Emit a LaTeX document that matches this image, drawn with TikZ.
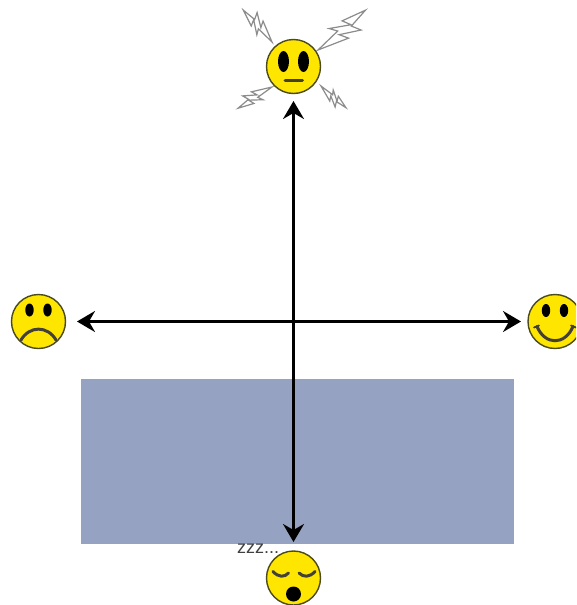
\documentclass[tikz,border=0pt]{standalone}
\usepackage{fontspec}
\setsansfont{Liberation Sans}
\usetikzlibrary{arrows.meta}
\definecolor{facefill}{HTML}{FFE600}
\definecolor{faceline}{HTML}{4A4A1A}
\definecolor{boxfill}{HTML}{96A2C2}
\tikzset{face/.style={circle, draw=faceline, fill=facefill, line width=1.4pt, minimum size=54pt, inner sep=0pt, outer sep=0pt},
feature/.style={draw=black!85!yellow, line width=3pt, line cap=round},
axisline/.style={black, line width=2.6pt, {Stealth[length=18pt,width=21pt,inset=6pt]}-{Stealth[length=18pt,width=21pt,inset=6pt]}},
boltmark/.pic={\draw[draw=black!45, fill=white, line width=1.2pt, line join=miter]
  (0,0) -- (.50,.17) -- (.42,.03) -- (.74,.20) -- (.66,.05) -- (1,0)
  -- (.60,-.11) -- (.67,.03) -- (.36,-.15) -- (.44,-.03) -- cycle;}}

\begin{document}
\begin{tikzpicture}[x=1pt,y=-1pt]
\useasboundingbox (0,0) rectangle (576,605);
\clip (0,0) rectangle (576,605);
\fill[white] (0,0) rectangle (576,605);
\fill[boxfill] (81,379) rectangle (514,544);

%lightning round the top face
\foreach \px/\py/\ang/\len in {272/42/132/43, 318/50/40/62, 272/87/212/40, 321/86/-41/33}
     \pic[rotate=\ang, scale=\len] at (\px,\py) {boltmark};

\node[face] (alert) at (293.5,66.5) {};
\node[face] (sad) at (38.5,321.5) {};
\node[face] (happy) at (555,321.5) {};
\node[face] (sleepy) at (293.5,578) {};
\node[font=\sffamily\fontsize{18}{18}\selectfont, text=black!75, inner sep=0pt] (snore) at (258,549) {zzz...};

% axes
\draw[axisline, shorten <=11.5pt, shorten >=7pt] (sad) -- (happy);
\draw[axisline, shorten <=7.5pt, shorten >=9pt] (alert) -- (sleepy);

% alert
\begin{scope}[shift={(alert)}]
\foreach \x in {-10,10}
     \fill[black] (\x,-5) ellipse (5.5 and 10.5);
\draw[feature] (-8.5,13.5) -- (9,13.5);
\end{scope}

% sad
\begin{scope}[shift={(sad)}]
\foreach \x in {-9,9}
     \fill[black] (\x,-11.5) ellipse (4.2 and 6.5);
\draw[feature] (-17.5,18.5) .. controls (-9,4) and (9,4) .. (17.5,18.5);
\end{scope}

% happy
\begin{scope}[shift={(happy)}]
\foreach \x in {-9,9}
     \fill[black] (\x,-11) ellipse (4.2 and 6.5);
\draw[feature] (-18,5) .. controls (-10,24) and (10,24) .. (18,5);
\draw[feature, line width=1.8pt] (-21,6) -- (-16,4);
\draw[feature, line width=1.8pt] (21,6) -- (16,4);
\end{scope}

% sleepy
\begin{scope}[shift={(sleepy)}]
\draw[feature] (-20.5,-6.5) .. controls (-15,-0.5) and (-9,-0.5) .. (-5,-5);
\draw[feature] (5.5,-5) .. controls (10,-0.5) and (16,-0.5) .. (21.5,-6.5);
\fill[black] (0,16) circle (7.5);
\end{scope}

\end{tikzpicture}
\end{document}
